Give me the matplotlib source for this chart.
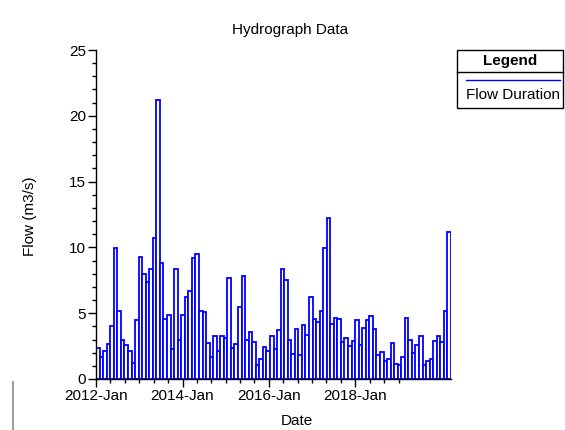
import matplotlib
matplotlib.use("Agg")
import matplotlib.pyplot as plt
import matplotlib.dates as mdates
from matplotlib.patches import Rectangle
from matplotlib.lines import Line2D
import pandas as pd

plt.rcParams["font.family"] = ["Liberation Sans", "DejaVu Sans"]

# data (flow per period, m3/s)
flow = [
    2.35, 1.7, 2.15, 2.65, 4.0, 9.95, 5.2, 2.95, 2.6, 2.15,
    1.25, 4.5, 9.3, 8.0, 7.4, 8.35, 10.7, 21.2, 8.85, 4.55,
    4.85, 2.25, 8.35, 3.0, 4.85, 6.25, 6.7, 9.2, 9.5, 5.2,
    5.1, 2.7, 1.7, 3.25, 2.15, 3.25, 3.15, 7.65, 2.35, 2.65,
    5.5, 7.8, 3.0, 3.55, 2.8, 1.05, 1.5, 2.45, 2.15, 3.25,
    2.25, 3.7, 8.35, 7.5, 3.0, 1.9, 3.8, 1.85, 4.1, 3.35,
    6.25, 4.55, 4.35, 5.2, 9.95, 12.25, 4.2, 4.65, 4.55, 2.8,
    3.15, 2.5, 2.9, 4.45, 2.6, 3.9, 4.45, 4.8, 3.8, 1.85,
    2.05, 1.4, 1.5, 2.7, 1.15, 1.05, 1.7, 4.6, 3.0, 1.95,
    2.6, 3.25, 1.05, 1.4, 1.5, 2.9, 3.25, 2.8, 5.2, 11.2,
]
start_date = "2012-01-01"
period_days = 30
dates = pd.date_range(start_date, periods=len(flow), freq=f"{period_days}D")

major_dates = pd.to_datetime(["2012-01-01", "2014-01-01", "2016-01-01", "2018-01-01"])
minor_dates = pd.date_range("2012-01-01", "2019-01-01", freq="4MS")
y_major = [0, 5, 10, 15, 20, 25]

W, H = 565, 430
fig = plt.figure(figsize=(W / 100, H / 100), dpi=100)
ax = fig.add_axes([96 / W, 1 - 379 / H, (451 - 96) / W, (379 - 50) / H])

x = mdates.date2num(dates)
ax.bar(x, flow, width=period_days, align="edge", facecolor="white",
       edgecolor="#0000ff", linewidth=1.3)

ax.set_xlim(x[0], x[-1] + period_days)
ax.set_ylim(0, 25)

for s in ["top", "right"]:
    ax.spines[s].set_visible(False)
for s in ["left", "bottom"]:
    ax.spines[s].set_linewidth(1.0)

major_num = mdates.date2num(major_dates)
ax.set_xticks(major_num)
ax.set_xticks([d for d in mdates.date2num(minor_dates) if d not in set(major_num)],
              minor=True)
ax.xaxis.set_major_formatter(mdates.DateFormatter("%Y-%b"))
ax.set_yticks(y_major)
ax.set_yticks(range(0, 26), minor=True)

ax.tick_params(axis="both", which="major", length=6, width=1.0,
               labelsize=11, pad=1)
ax.tick_params(axis="both", which="minor", length=3, width=1.0)


def fx(px):
    return px / W


def fy(py):
    return 1 - py / H


# titles and axis labels at their reference spots
fig.text(fx(290), fy(30), "Hydrograph Data", fontsize=11, ha="center", va="center")
fig.text(fx(30), fy(216), "Flow (m3/s)", fontsize=11, rotation=90,
         ha="center", va="center")
fig.text(fx(297), fy(421), "Date", fontsize=11, ha="center", va="center")

# legend box, drawn by hand in figure pixels
fig.add_artist(Rectangle((fx(457), fy(108)), fx(563) - fx(457), fy(50) - fy(108),
                         transform=fig.transFigure, facecolor="white",
                         edgecolor="black", linewidth=1.0))
fig.add_artist(Line2D([fx(457), fx(563)], [fy(71.5), fy(71.5)],
                      transform=fig.transFigure, color="black", linewidth=1.0))
fig.text(fx(510), fy(60.5), "Legend", fontsize=11, fontweight="bold",
         ha="center", va="center")
fig.add_artist(Line2D([fx(466), fx(560)], [fy(79.5), fy(79.5)],
                      transform=fig.transFigure, color="#0000ff", linewidth=1.0))
fig.text(fx(466), fy(95), "Flow Duration", fontsize=11, ha="left", va="center")

# stray frame edge at bottom left
fig.add_artist(Line2D([fx(12.5), fx(12.5)], [fy(382), fy(430)],
                      transform=fig.transFigure, color="#a0a0a0", linewidth=1.5))

fig.savefig("out.png", dpi=100)
